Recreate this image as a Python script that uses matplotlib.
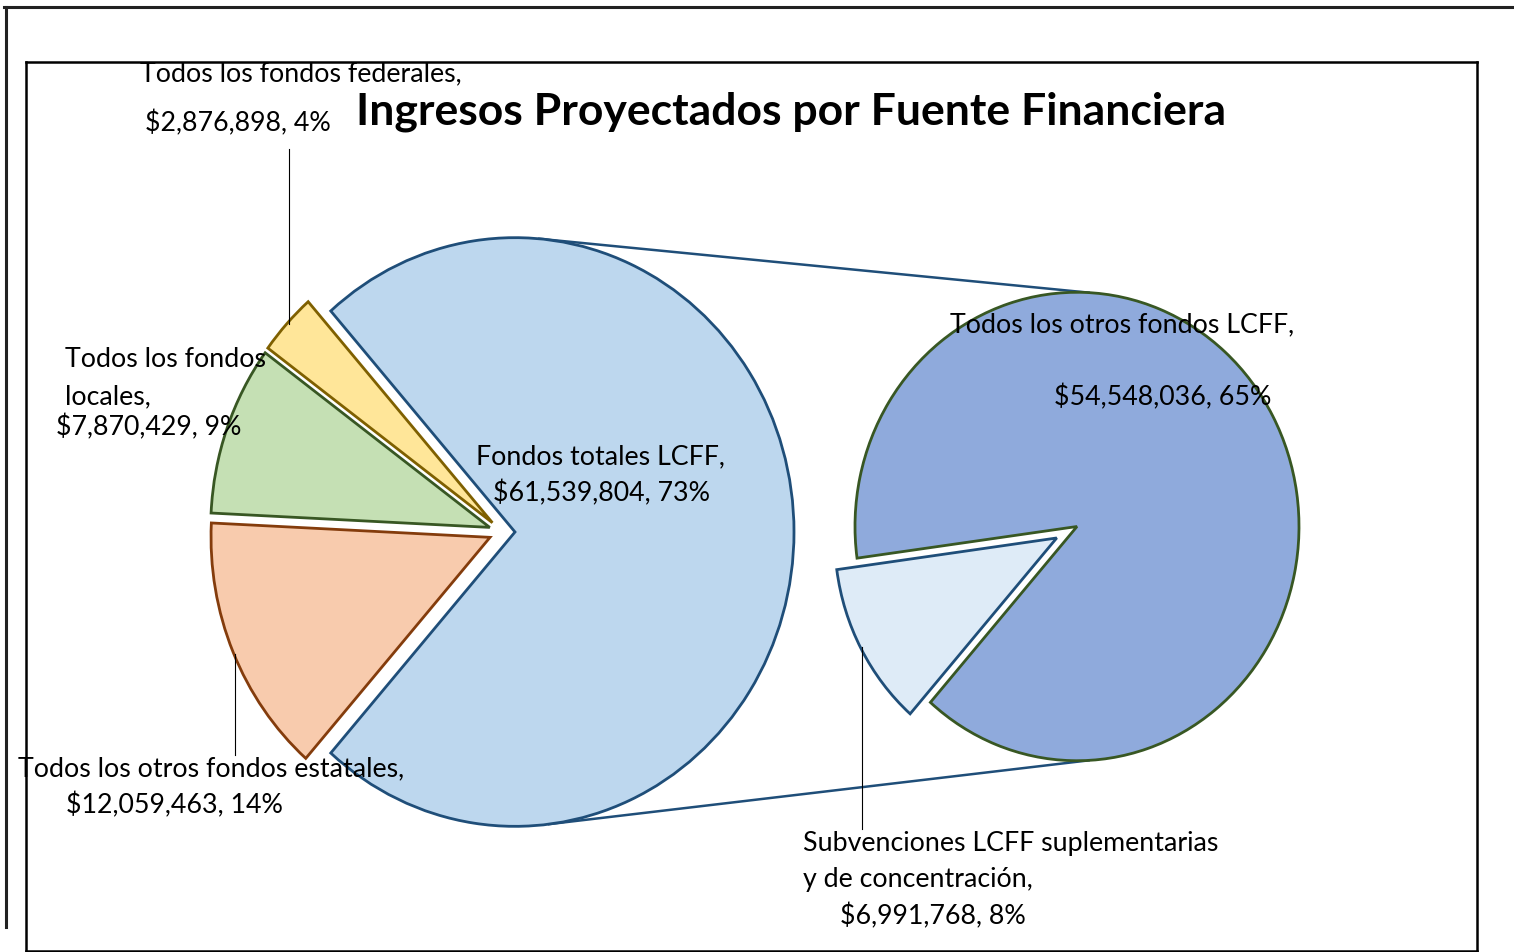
import matplotlib
matplotlib.use("Agg")
import matplotlib.pyplot as plt
from matplotlib.lines import Line2D
import numpy as np

# ---------------- data ----------------
main_labels = ["Fondos totales LCFF", "Todos los fondos federales",
               "Todos los fondos locales", "Todos los otros fondos estatales"]
main_values = [61539804, 2876898, 7870429, 12059463]
main_pcts = ["73%", "4%", "9%", "14%"]

sub_labels = ["Todos los otros fondos LCFF",
              "Subvenciones LCFF suplementarias y de concentración"]
sub_values = [54548036, 6991768]
sub_pcts = ["65%", "8%"]

title = "Ingresos Proyectados por Fuente Financiera"

main_colors = ["#BDD7EE", "#FFE699", "#C5E0B4", "#F8CBAD"]
main_edges = ["#1F4E79", "#7F6000", "#385723", "#843C0C"]
sub_colors = ["#8FAADC", "#DEEBF7"]
sub_edges = ["#385723", "#1F4E79"]

plt.rcParams['font.family'] = ['Lato', 'DejaVu Sans']

W, H = 1514, 953
S = 1.055  # vertical stretch of the original rendering
fig = plt.figure(figsize=(W / 100, H / 100), dpi=100)


def fx(px):
    return px / W


def fy(py):
    return 1 - py / H


def Y(py):
    return (H - py) / S


box_l, box_r, box_t, box_b = 26, 1477, 63, 952
ax = fig.add_axes([fx(box_l), fy(box_b), fx(box_r - box_l), fy(box_t) - fy(box_b)])

total = sum(main_values)
start = -180.0 * main_values[0] / total

R1, c1 = 279, (502, Y(533))
R2, c2 = 222, (1077, Y(527.5))
e1, e2 = 13, 23

ax.pie(main_values, colors=main_colors, startangle=start, counterclock=True,
       radius=R1, center=c1, explode=[e1] * 4,
       wedgeprops=dict(linewidth=2.0), frame=True)
for w, ec in zip(ax.patches[-4:], main_edges):
    w.set_edgecolor(ec)

ax.pie(sub_values, colors=sub_colors, startangle=start, counterclock=True,
       radius=R2, center=c2, explode=[0, e2],
       wedgeprops=dict(linewidth=2.0), frame=True)
for w, ec in zip(ax.patches[-2:], sub_edges):
    w.set_edgecolor(ec)

ax.set_aspect('auto')
ax.set_xlim(box_l, box_r)
ax.set_ylim(Y(box_b), Y(box_t))
ax.set_xticks([])
ax.set_yticks([])
for sp in ax.spines.values():
    sp.set_linewidth(1.8)
    sp.set_color("black")

# connector lines between the pies
mcx = c1[0] + e1
for a1, a2 in [(85, 87), (-83, -87)]:
    p1 = (mcx + R1 * np.cos(np.radians(a1)), c1[1] + R1 * np.sin(np.radians(a1)))
    p2 = (c2[0] + R2 * np.cos(np.radians(a2)), c2[1] + R2 * np.sin(np.radians(a2)))
    ax.plot([p1[0], p2[0]], [p1[1], p2[1]], color="#1F4E79", lw=1.8, zorder=0.5)

# leader lines
for x, y0, y1 in [(289, 150, 325), (235, 655, 756), (862, 648, 830)]:
    ax.plot([x, x], [Y(y0), Y(y1)], color="black", lw=0.8, zorder=3)

fs = 19.3


def money(v):
    return "${:,}".format(v)


def lab(x, py, s, ha="left", clip=False):
    ax.text(x, Y(py + 2), s, fontsize=fs, ha=ha, va="center", color="black",
            clip_on=clip, zorder=4)


# federal (top line clipped by the plot-area border, as in the original)
lab(140, 72, main_labels[1] + ",", clip=True)
lab(145, 121, money(main_values[1]) + ", " + main_pcts[1])
# local
lab(65, 358, "Todos los fondos")
lab(65, 395, "locales,")
lab(56, 425, money(main_values[2]) + ", " + main_pcts[2])
# state
lab(211, 767, main_labels[3] + ",", ha="center")
lab(174, 803, money(main_values[3]) + ", " + main_pcts[3], ha="center")
# LCFF total
lab(600, 455, main_labels[0] + ",", ha="center")
lab(601, 491, money(main_values[0]) + ", " + main_pcts[0], ha="center")
# LCFF other
lab(950, 323, sub_labels[0] + ",")
lab(1054, 395, money(sub_values[0]) + ", " + sub_pcts[0])
# supplemental
lab(803, 842, "Subvenciones LCFF suplementarias")
lab(803, 878, "y de concentración,")
lab(840, 914, money(sub_values[1]) + ", " + sub_pcts[1])

ax.text(791, Y(112), title, fontsize=32, fontweight="bold", ha="center",
        va="center", color="black", zorder=4)

# outer page frame lines
fig.add_artist(Line2D([fx(4), fx(1514)], [fy(8), fy(8)], color="#222222", lw=2.2))
fig.add_artist(Line2D([fx(6), fx(6)], [fy(8), fy(928)], color="#222222", lw=2.2))

fig.savefig("out.png", dpi=100)
